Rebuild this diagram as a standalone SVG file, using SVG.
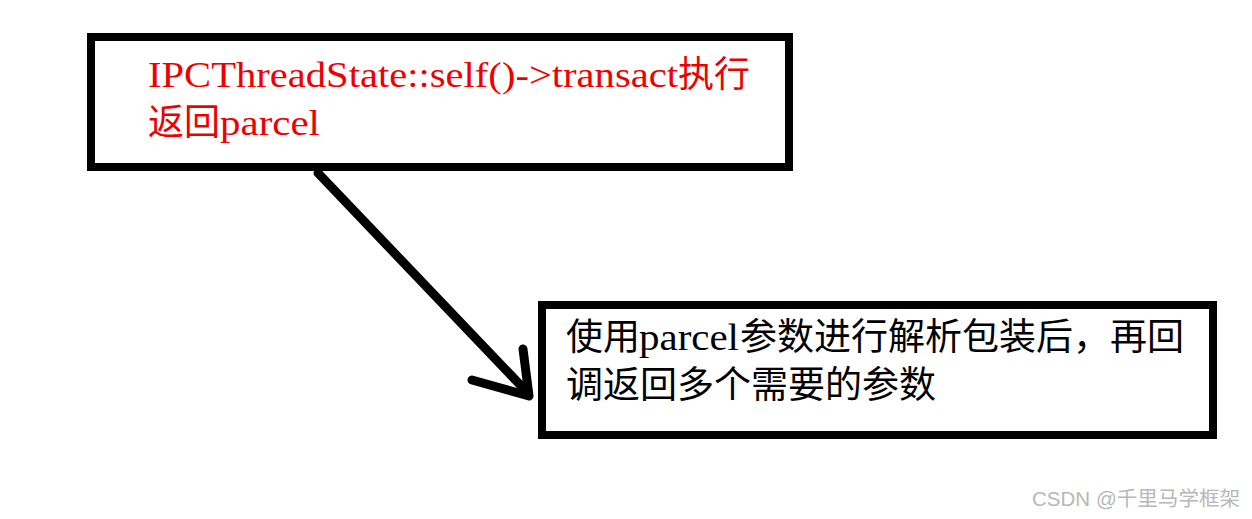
<svg xmlns="http://www.w3.org/2000/svg" width="1252" height="519" viewBox="0 0 1252 519">
<style>
.box{fill:#ffffff;stroke:#000000;stroke-width:8}
.t{font-family:"Liberation Serif","Noto Sans CJK SC",serif;font-size:36px}
.b{font-size:37px}
.red{fill:#ee0000}
.blk{fill:#000000}
.conn{fill:none;stroke:#000000;stroke-width:9;stroke-linecap:round;stroke-linejoin:round}
.wm{font-family:"Liberation Sans","Noto Sans CJK SC",sans-serif;font-size:20px;fill:#b8b8b8}
</style>
<rect width="1252" height="519" fill="#ffffff"/>
<g id="node-transact">
<rect class="box" x="91" y="37" width="698" height="130"/>
<text class="t red" x="148" y="87" textLength="530" lengthAdjust="spacingAndGlyphs">IPCThreadState::self()-&gt;transact</text>
<text class="t red" x="678" y="87">执行</text>
<text class="t red" x="148" y="135">返回</text>
<text class="t red" x="220" y="135" textLength="100" lengthAdjust="spacingAndGlyphs">parcel</text>
</g>
<g id="node-parse">
<rect class="box" x="542" y="305" width="671" height="130"/>
<text class="t b blk" x="566" y="350">使用</text>
<text class="t b blk" x="639" y="350" textLength="100" lengthAdjust="spacingAndGlyphs">parcel</text>
<text class="t b blk" x="740" y="350">参数进行解析包装后，再回</text>
<text class="t b blk" x="566" y="398">调返回多个需要的参数</text>
</g>
<g id="connectors">
<path class="conn" d="M318,173 L526,391"/>
<path class="conn" d="M472,380 L529,396 L523,349"/>
</g>
<text class="wm" x="1032" y="506" textLength="208" lengthAdjust="spacingAndGlyphs">CSDN @千里马学框架</text>
</svg>
